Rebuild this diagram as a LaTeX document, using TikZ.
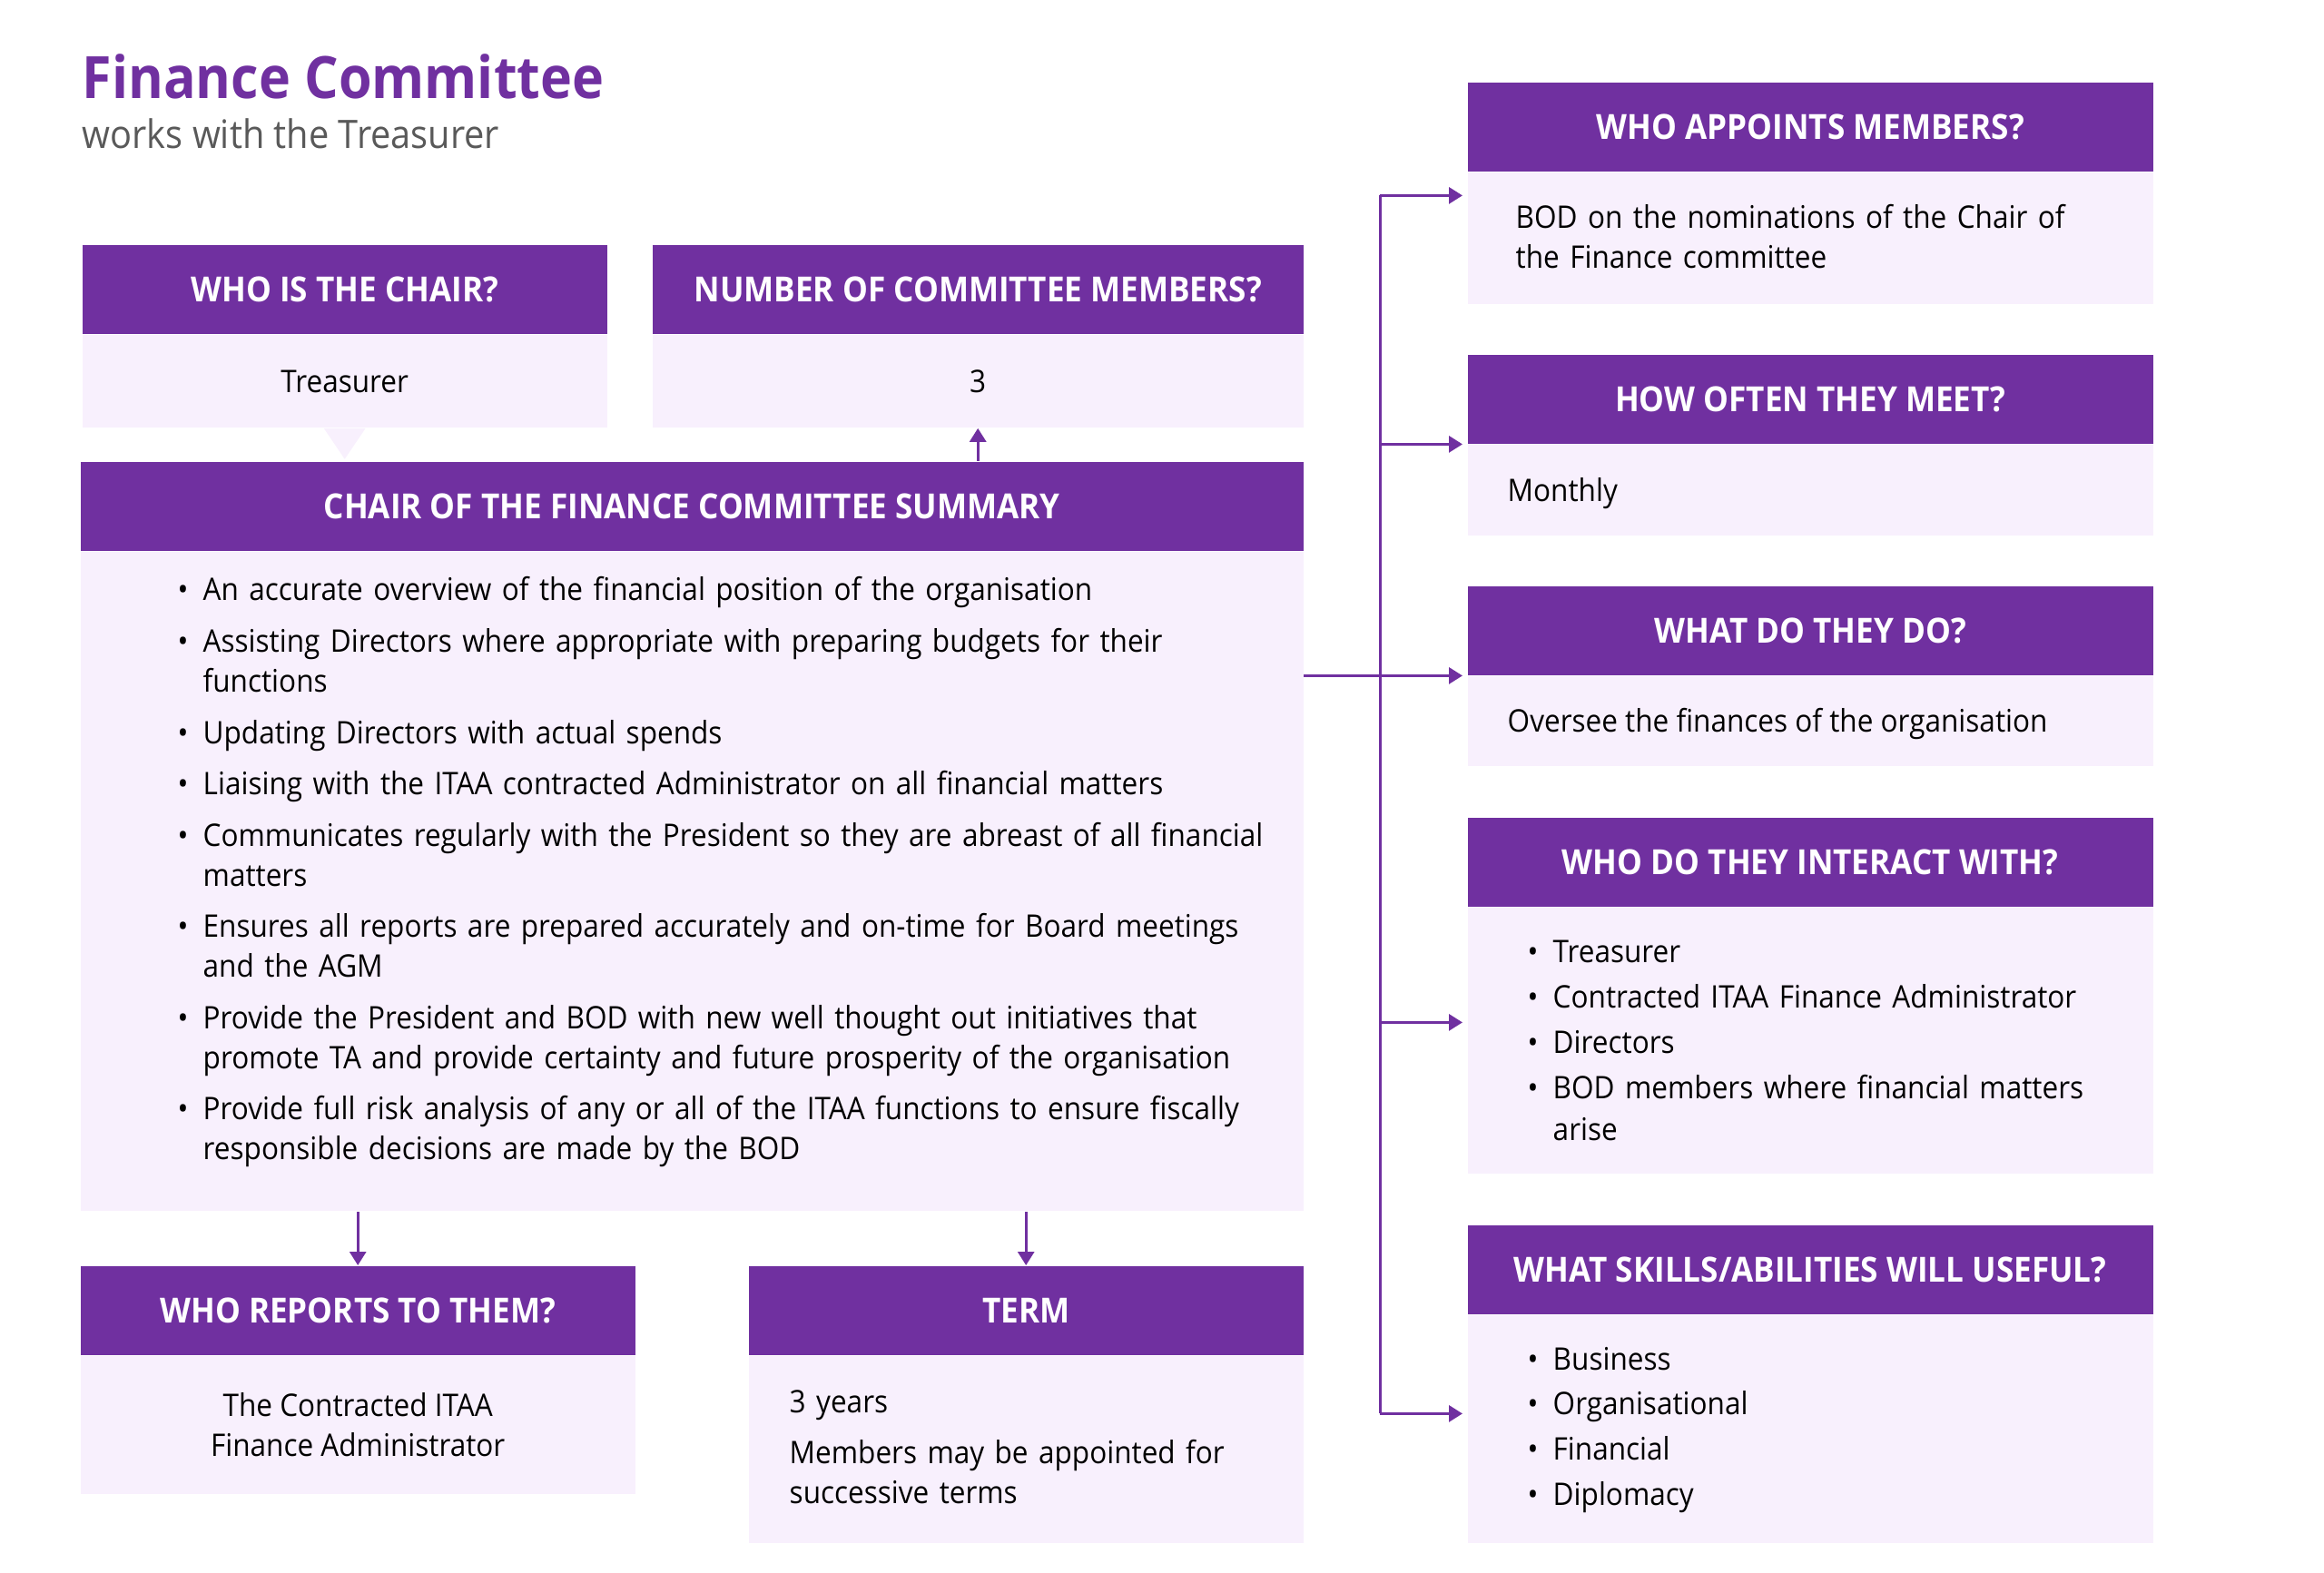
\documentclass[tikz,border=0pt]{standalone}
\usepackage{fontspec}
\setmainfont{Open Sans}[FakeStretch=0.92]
\usepackage{tikz}
\usetikzlibrary{positioning,calc,arrows.meta}

\definecolor{fcpurple}{HTML}{7030A0}
\definecolor{fclight}{HTML}{F8F0FD}
\definecolor{fcgrey}{HTML}{595959}

\newcommand{\bitem}[1]{\noindent\hangindent=0.28cm\hangafter=1\makebox[0.28cm][l]{\textbullet}#1\par}

\tikzset{
  hdr/.style={fill=fcpurple, text=white, font=\bfseries\fontsize{10.85}{12}\selectfont,
    minimum height=0.98cm, inner sep=0pt, anchor=north west},
  bodybox/.style={fill=fclight, inner sep=0pt, anchor=north west, align=center,
    font=\fontsize{9.75}{12.5}\selectfont},
  txt/.style={inner sep=0pt, anchor=base west, align=left, font=\fontsize{9.75}{12.5}\selectfont},
  conn/.style={draw=fcpurple, line width=0.85pt},
  tip/.style={conn, -{Triangle[length=0.15cm,width=0.18cm]}}
}

\begin{document}
\begin{tikzpicture}
\useasboundingbox (0,0) rectangle (25.6,-17.33);

% Title
\node[anchor=base west, inner sep=0pt, text=fcpurple, font=\bfseries\fontsize{18.3}{22}\selectfont] (title) at (0.90,-1.09) {Finance Committee};
\node[anchor=base west, inner sep=0pt, text=fcgrey, font=\fontsize{12.3}{15}\selectfont] (subtitle) at (0.90,-1.64) {works with the Treasurer};

% Left top boxes
\node[hdr, minimum width=5.78cm] (chairH) at (0.90,-2.69) {WHO IS THE CHAIR?};
\node[bodybox, minimum width=5.78cm, minimum height=1.02cm] (chairB) at (chairH.south west) {Treasurer};
\fill[fclight] ($(chairB.south)+(-0.23,0)$) -- ($(chairB.south)+(0.23,0)$) -- ($(chairB.south)+(0,-0.34)$) -- cycle;

\node[hdr, minimum width=7.17cm] (memH) at (7.18,-2.69) {NUMBER OF COMMITTEE MEMBERS?};
\node[bodybox, minimum width=7.17cm, minimum height=1.02cm] (memB) at (memH.south west) {3};

% Summary
\node[hdr, minimum width=13.47cm] (sumH) at (0.88,-5.08) {CHAIR OF THE FINANCE COMMITTEE SUMMARY};
\node[bodybox, minimum width=13.47cm, minimum height=7.26cm] (sumB) at (sumH.south west) {};
\node[txt, text width=12.3cm, execute at begin node={\setlength{\parskip}{3.6pt}}] (sumT) at (1.95,-6.62) {%
\bitem{An accurate overview of the financial position of the organisation}
\bitem{Assisting Directors where appropriate with preparing budgets for their\newline functions}
\bitem{Updating Directors with actual spends}
\bitem{Liaising with the ITAA contracted Administrator on all financial matters}
\bitem{Communicates regularly with the President so they are abreast of all financial\newline matters}
\bitem{Ensures all reports are prepared accurately and on-time for Board meetings\newline and the AGM}
\bitem{Provide the President and BOD with new well thought out initiatives that\newline promote TA and provide certainty and future prosperity of the organisation}
\bitem{Provide full risk analysis of any or all of the ITAA functions to ensure fiscally\newline responsible decisions are made by the BOD}};

% Bottom boxes
\node[hdr, minimum width=6.11cm] (repH) at (0.88,-13.94) {WHO REPORTS TO THEM?};
\node[bodybox, minimum width=6.11cm, minimum height=1.52cm] (repB) at (repH.south west) {The Contracted ITAA\\Finance Administrator};

\node[hdr, minimum width=6.11cm] (termH) at (8.24,-13.94) {TERM};
\node[bodybox, minimum width=6.11cm, minimum height=2.06cm] (termB) at (termH.south west) {};
\node[txt, text width=5.4cm, execute at begin node={\setlength{\parskip}{3.7pt}}] (termT) at (8.69,-15.56) {3 years\par Members may be appointed for\newline successive terms};

% Right column
\node[hdr, minimum width=7.55cm] (apH) at (16.16,-0.90) {WHO APPOINTS MEMBERS?};
\node[bodybox, minimum width=7.55cm, minimum height=1.45cm] (apB) at (apH.south west) {};
\node[txt, text width=6.8cm] (apT) at (16.69,-2.52) {BOD on the nominations of the Chair of\newline the Finance committee};

\node[hdr, minimum width=7.55cm] (oftH) at (16.16,-3.90) {HOW OFTEN THEY MEET?};
\node[bodybox, minimum width=7.55cm, minimum height=1.00cm] (oftB) at (oftH.south west) {};
\node[txt] (oftT) at (16.60,-5.53) {Monthly};

\node[hdr, minimum width=7.55cm] (doH) at (16.16,-6.45) {WHAT DO THEY DO?};
\node[bodybox, minimum width=7.55cm, minimum height=0.99cm] (doB) at (doH.south west) {};
\node[txt] (doT) at (16.60,-8.07) {Oversee the finances of the organisation};

\node[hdr, minimum width=7.55cm] (intH) at (16.16,-9.00) {WHO DO THEY INTERACT WITH?};
\node[bodybox, minimum width=7.55cm, minimum height=2.93cm] (intB) at (intH.south west) {};
\node[txt, text width=6.6cm, font=\fontsize{9.75}{13}\selectfont, execute at begin node={\setlength{\parskip}{1.2pt}}] (intT) at (16.82,-10.61) {%
\bitem{Treasurer}
\bitem{Contracted ITAA Finance Administrator}
\bitem{Directors}
\bitem{BOD members where financial matters\newline arise}};

\node[hdr, minimum width=7.55cm] (skH) at (16.16,-13.49) {WHAT SKILLS/ABILITIES WILL USEFUL?};
\node[bodybox, minimum width=7.55cm, minimum height=2.51cm] (skB) at (skH.south west) {};
\node[txt, text width=6.6cm, font=\fontsize{9.75}{13}\selectfont, execute at begin node={\setlength{\parskip}{1.2pt}}] (skT) at (16.82,-15.09) {%
\bitem{Business}
\bitem{Organisational}
\bitem{Financial}
\bitem{Diplomacy}};

% Connectors
\coordinate (apArr) at ([yshift=-0.26cm]apB.north west);
\coordinate (intArr) at ([yshift=-1.27cm]intB.north west);
\coordinate (skArr) at ([yshift=-1.09cm]skB.north west);
\coordinate (trunkTop) at (15.20,0 |- apArr);
\coordinate (trunkBot) at (15.20,0 |- skArr);

\draw[conn] (trunkTop) -- (trunkBot);
\draw[tip, shorten >=0.05cm] (sumB.east |- doH.south) -- (doH.south west);
\draw[tip, shorten >=0.05cm] (trunkTop) -- (apArr);
\draw[tip, shorten >=0.05cm] (trunkTop |- oftH.south) -- (oftH.south west);
\draw[tip, shorten >=0.05cm] (trunkTop |- intArr) -- (intArr);
\draw[tip, shorten >=0.05cm] (trunkBot) -- (skArr);

\draw[tip] (memB.south |- sumH.north) -- (memB.south);
\draw[tip] (repH.north |- sumB.south) -- (repH.north);
\draw[tip] (termH.north |- sumB.south) -- (termH.north);
\end{tikzpicture}
\end{document}
